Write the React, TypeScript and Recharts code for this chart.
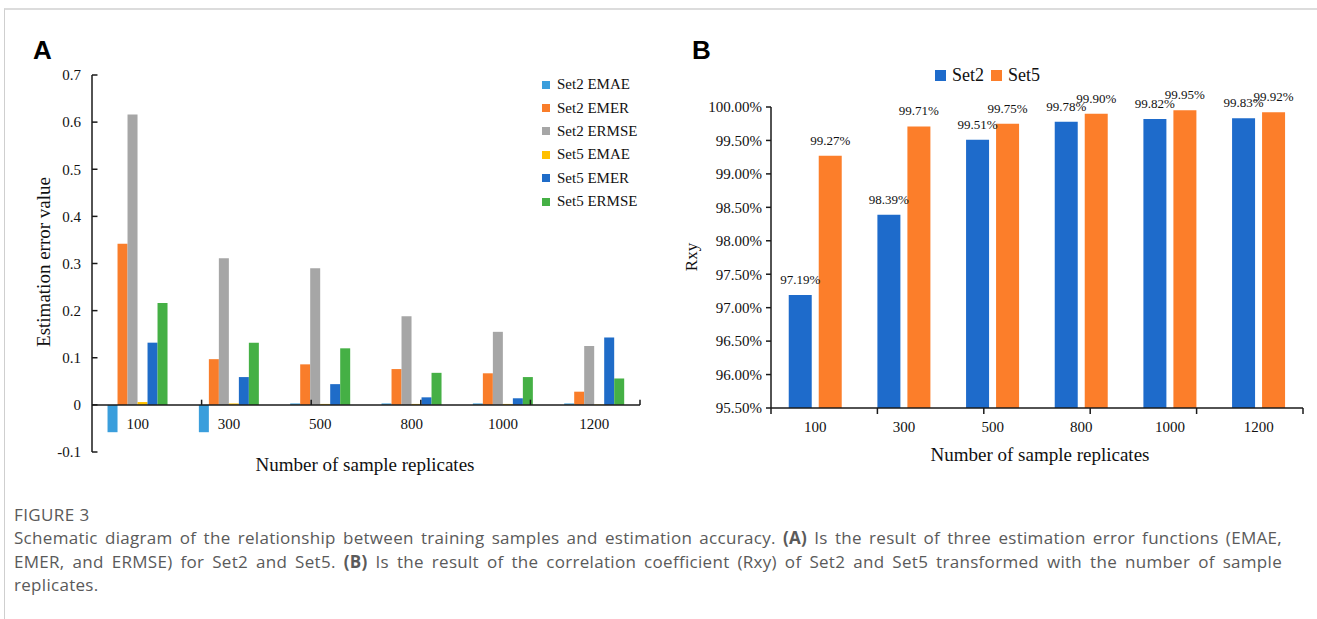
import React from 'react';
import { BarChart, Bar, XAxis, YAxis, ReferenceLine, LabelList } from 'recharts';

// ---------- Data ----------
const categories = ['100', '300', '500', '800', '1000', '1200'];

const set2EMAE = [-0.058, -0.058, 0.003, 0.003, 0.003, 0.003];
const set2EMER = [0.342, 0.097, 0.086, 0.076, 0.067, 0.028];
const set2ERMSE = [0.616, 0.311, 0.29, 0.188, 0.155, 0.125];
const set5EMAE = [0.006, 0.003, 0.002, 0.002, 0.002, 0.001];
const set5EMER = [0.132, 0.059, 0.044, 0.016, 0.014, 0.143];
const set5ERMSE = [0.216, 0.132, 0.12, 0.068, 0.059, 0.056];

const set2Rxy = [97.19, 98.39, 99.51, 99.78, 99.82, 99.83];
const set5Rxy = [99.27, 99.71, 99.75, 99.9, 99.95, 99.92];

const aTicks = [-0.1, 0, 0.1, 0.2, 0.3, 0.4, 0.5, 0.6, 0.7];
const bTicks = [95.5, 96, 96.5, 97, 97.5, 98, 98.5, 99, 99.5, 100];
const boundaries = [0, 1, 2, 3, 4, 5, 6];

const seriesA = [
  { key: 's2emae', name: 'Set2 EMAE', values: set2EMAE, color: '#3A9EDC' },
  { key: 's2emer', name: 'Set2 EMER', values: set2EMER, color: '#F97D2A' },
  { key: 's2ermse', name: 'Set2 ERMSE', values: set2ERMSE, color: '#A6A6A6' },
  { key: 's5emae', name: 'Set5 EMAE', values: set5EMAE, color: '#FFC000' },
  { key: 's5emer', name: 'Set5 EMER', values: set5EMER, color: '#1F6CC8' },
  { key: 's5ermse', name: 'Set5 ERMSE', values: set5ERMSE, color: '#45B045' },
];

const seriesB = [
  { key: 'set2', name: 'Set2', values: set2Rxy, color: '#1E6BCB' },
  { key: 'set5', name: 'Set5', values: set5Rxy, color: '#FC7E2A' },
];

const dataA = categories.map((c, i) => {
  const row: any = { cat: c };
  seriesA.forEach((s) => (row[s.key] = s.values[i]));
  return row;
});

const dataB = categories.map((c, i) => {
  const row: any = { cat: c };
  seriesB.forEach((s) => (row[s.key] = s.values[i]));
  return row;
});

const SERIF = '"Liberation Serif", "Times New Roman", serif';
const SANS = '"Liberation Sans", Arial, sans-serif';
const AXIS = '#1a1a1a';

const ATick = (props: any) => {
  const { x, y, payload } = props;
  return (
    <text x={x} y={y} dy={-23} textAnchor="middle" fontFamily={SERIF} fontSize={15} fill="#111">
      {payload.value}
    </text>
  );
};

export default function App() {
  return (
    <div
      style={{
        position: 'absolute',
        left: 0,
        top: 0,
        width: 1317,
        height: 619,
        background: '#fff',
        overflow: 'hidden',
      }}
    >
      {/* card border */}
      <div
        style={{
          position: 'absolute',
          left: 4,
          top: 8,
          width: 1320,
          height: 620,
          borderLeft: '1px solid #cfcfcf',
          borderTop: '2px solid #dcdcdc',
        }}
      />

      {/* Panel labels */}
      <div style={{ position: 'absolute', left: 33, top: 37, fontFamily: SANS, fontWeight: 700, fontSize: 26, lineHeight: 1 }}>A</div>
      <div style={{ position: 'absolute', left: 692, top: 37, fontFamily: SANS, fontWeight: 700, fontSize: 26, lineHeight: 1 }}>B</div>

      {/* Panel A chart */}
      <div style={{ position: 'absolute', left: 0, top: 0 }}>
        <BarChart
          width={680}
          height={480}
          data={dataA}
          margin={{ top: 75, right: 40, bottom: 0, left: 0 }}
          barCategoryGap="17%"
          barGap={0}
        >
          <XAxis
            xAxisId="c"
            dataKey="cat"
            axisLine={false}
            tickLine={false}
            tickSize={0}
            tickMargin={0}
            height={28}
            interval={0}
            tick={<ATick />}
          />
          <XAxis xAxisId="n" type="number" domain={[0, 6]} hide allowDataOverflow />
          <YAxis
            domain={[-0.1, 0.7]}
            ticks={aTicks}
            interval={0}
            width={92}
            tickSize={0}
            tickMargin={11}
            tickLine={false}
            axisLine={{ stroke: AXIS, strokeWidth: 1.5 }}
            tick={{ fontFamily: SERIF, fontSize: 15, fill: '#111' }}
            tickFormatter={(v: number) => (v === 0 ? '0' : v.toFixed(1))}
            allowDataOverflow
          />
          {seriesA.map((s) => (
            <Bar key={s.key} xAxisId="c" dataKey={s.key} name={s.name} fill={s.color} isAnimationActive={false} />
          ))}
          <ReferenceLine xAxisId="c" y={0} stroke={AXIS} strokeWidth={1.5} />
          {boundaries.slice(1).map((b) => (
            <ReferenceLine
              key={'bx' + b}
              xAxisId="n"
              segment={[{ x: b, y: 0 }, { x: b, y: 0.011 }]}
              stroke={AXIS}
              strokeWidth={1.5}
            />
          ))}
          {aTicks.map((t) => (
            <ReferenceLine
              key={'ty' + t}
              xAxisId="n"
              segment={[{ x: 0, y: t }, { x: 0.05, y: t }]}
              stroke={AXIS}
              strokeWidth={1.5}
            />
          ))}
        </BarChart>
      </div>

      {/* Panel A legend */}
      <div style={{ position: 'absolute', left: 542, top: 73, fontFamily: SERIF, fontSize: 15, color: '#111' }}>
        {seriesA.map((s) => (
          <div key={s.key} style={{ display: 'flex', alignItems: 'center', height: 23.4, whiteSpace: 'nowrap' }}>
            <span style={{ display: 'inline-block', width: 8, height: 8, background: s.color, marginRight: 7 }} />
            <span>{s.name}</span>
          </div>
        ))}
      </div>

      {/* Panel A axis titles */}
      <div
        style={{
          position: 'absolute',
          left: 44,
          top: 262,
          transform: 'translate(-50%, -50%) rotate(-90deg)',
          whiteSpace: 'nowrap',
          fontFamily: SERIF,
          fontSize: 19,
          color: '#111',
        }}
      >
        Estimation error value
      </div>
      <div
        style={{
          position: 'absolute',
          left: 365,
          top: 465,
          transform: 'translate(-50%, -50%)',
          whiteSpace: 'nowrap',
          fontFamily: SERIF,
          fontSize: 19,
          color: '#111',
        }}
      >
        Number of sample replicates
      </div>

      {/* Panel B chart */}
      <div style={{ position: 'absolute', left: 680, top: 0 }}>
        <BarChart
          width={637}
          height={480}
          data={dataB}
          margin={{ top: 107, right: 14, bottom: 42, left: 0 }}
          barCategoryGap="20%"
          barGap={7}
        >
          <XAxis
            xAxisId="c"
            dataKey="cat"
            axisLine={{ stroke: AXIS, strokeWidth: 1.5 }}
            tickLine={false}
            tickSize={0}
            tickMargin={13}
            height={30}
            interval={0}
            tick={{ fontFamily: SERIF, fontSize: 15, fill: '#111' }}
          />
          <XAxis xAxisId="n" type="number" domain={[0, 6]} hide allowDataOverflow />
          <YAxis
            domain={[95.5, 100]}
            ticks={bTicks}
            interval={0}
            width={91}
            tickSize={5}
            tickMargin={4}
            tickLine={{ stroke: AXIS, strokeWidth: 1.5 }}
            axisLine={{ stroke: AXIS, strokeWidth: 1.5 }}
            tick={{ fontFamily: SERIF, fontSize: 15, fill: '#111' }}
            tickFormatter={(v: number) => v.toFixed(2) + '%'}
            allowDataOverflow
          />
          {seriesB.map((s) => (
            <Bar key={s.key} xAxisId="c" dataKey={s.key} name={s.name} fill={s.color} isAnimationActive={false}>
              <LabelList
                dataKey={s.key}
                position="top"
                offset={11}
                formatter={(v: any) => Number(v).toFixed(2) + '%'}
                style={{ fontFamily: SERIF, fontSize: 13, fill: '#111' }}
              />
            </Bar>
          ))}
          {boundaries.map((b) => (
            <ReferenceLine
              key={'bb' + b}
              xAxisId="n"
              segment={[{ x: b, y: 95.5 }, { x: b, y: 95.41 }]}
              ifOverflow="visible"
              stroke={AXIS}
              strokeWidth={1.5}
            />
          ))}
        </BarChart>
      </div>

      {/* Panel B legend */}
      <div
        style={{
          position: 'absolute',
          left: 935,
          top: 63,
          height: 24,
          display: 'flex',
          alignItems: 'center',
          fontFamily: SERIF,
          fontSize: 18,
          color: '#111',
          whiteSpace: 'nowrap',
        }}
      >
        {seriesB.map((s, i) => (
          <React.Fragment key={s.key}>
            <span
              style={{
                display: 'inline-block',
                width: 11,
                height: 11,
                background: s.color,
                marginRight: 6,
                marginLeft: i === 0 ? 0 : 7,
              }}
            />
            <span>{s.name}</span>
          </React.Fragment>
        ))}
      </div>

      {/* Panel B axis titles */}
      <div
        style={{
          position: 'absolute',
          left: 692,
          top: 257,
          transform: 'translate(-50%, -50%) rotate(-90deg)',
          whiteSpace: 'nowrap',
          fontFamily: SERIF,
          fontSize: 17,
          color: '#111',
        }}
      >
        Rxy
      </div>
      <div
        style={{
          position: 'absolute',
          left: 1040,
          top: 455,
          transform: 'translate(-50%, -50%)',
          whiteSpace: 'nowrap',
          fontFamily: SERIF,
          fontSize: 19,
          color: '#111',
        }}
      >
        Number of sample replicates
      </div>

      {/* Caption */}
      <div
        style={{
          position: 'absolute',
          left: 14,
          top: 503,
          fontFamily: '"Open Sans", sans-serif',
          fontSize: 17,
          letterSpacing: 0.4,
          color: '#5a5a5a',
          lineHeight: '24px',
        }}
      >
        FIGURE 3
      </div>
      <div
        style={{
          position: 'absolute',
          left: 14,
          top: 526,
          width: 1268,
          fontFamily: '"Open Sans", sans-serif',
          fontSize: 17,
          letterSpacing: 0.3,
          color: '#5a5a5a',
          lineHeight: '23.5px',
        }}
      >
        <div style={{ textAlign: 'justify', textAlignLast: 'justify', whiteSpace: 'nowrap' }}>
          Schematic diagram of the relationship between training samples and estimation accuracy. <b>(A)</b> Is the result of three estimation error functions (EMAE,
        </div>
        <div style={{ textAlign: 'justify', textAlignLast: 'justify', whiteSpace: 'nowrap' }}>
          EMER, and ERMSE) for Set2 and Set5. <b>(B)</b> Is the result of the correlation coefficient (Rxy) of Set2 and Set5 transformed with the number of sample
        </div>
        <div>replicates.</div>
      </div>
    </div>
  );
}
